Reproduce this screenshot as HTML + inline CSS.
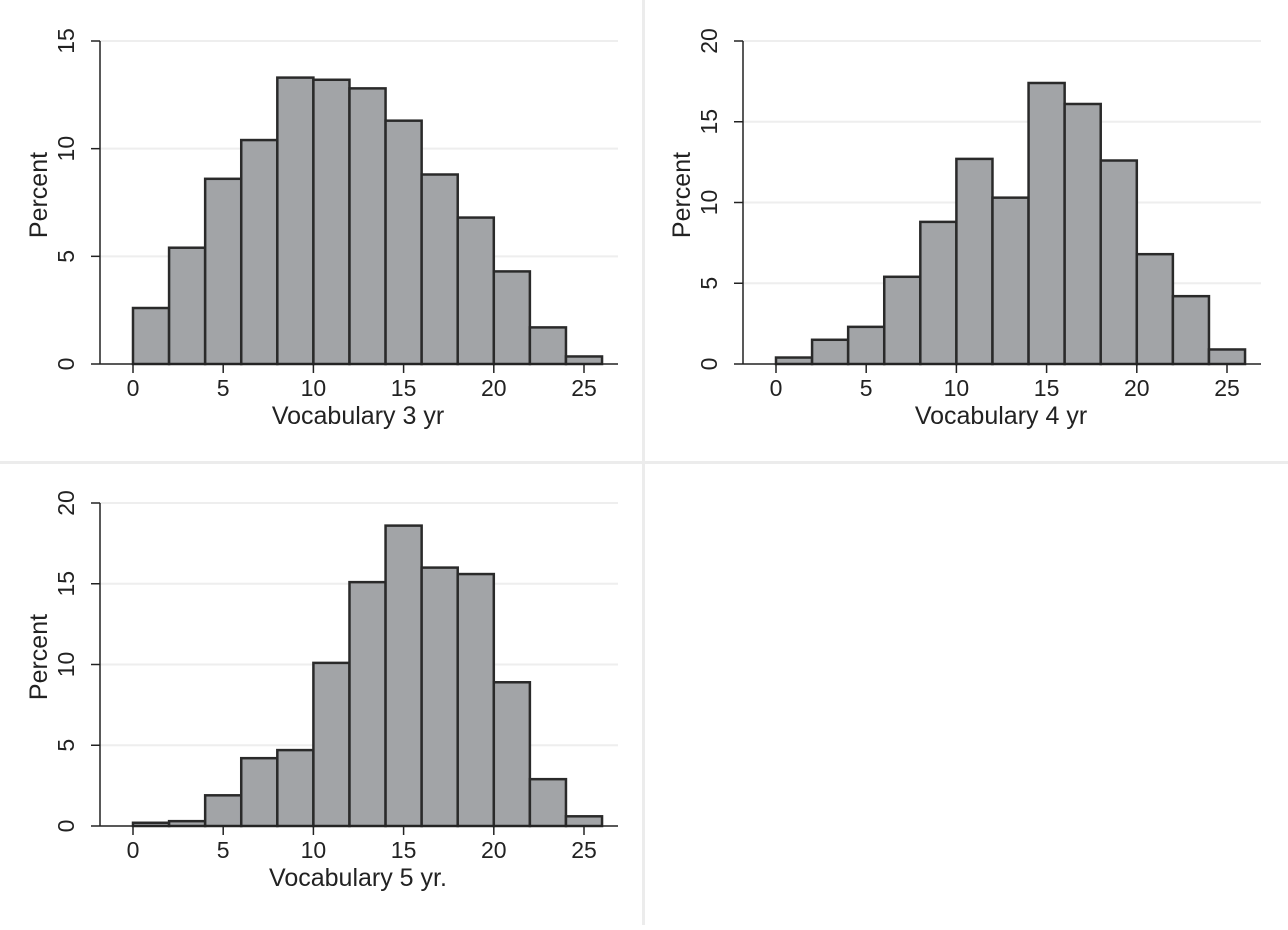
<!DOCTYPE html>
<html><head><meta charset="utf-8"><style>
body{margin:0;background:#fff;}
svg text{font-family:"Liberation Sans",Arial,sans-serif;fill:#222;}
</style></head><body>
<svg id="c" width="1288" height="925" xmlns="http://www.w3.org/2000/svg">
<rect x="0" y="0" width="1288" height="925" fill="#fff"/>
<line x1="643.5" y1="0" x2="643.5" y2="925" stroke="#ececec" stroke-width="3"/>
<line x1="0" y1="462.5" x2="1288" y2="462.5" stroke="#ececec" stroke-width="3"/>
<rect x="645" y="464" width="643" height="461" fill="#fff"/>
</svg>
<script>
const binStarts=[0,2,4,6,8,10,12,14,16,18,20,22,24];
const xTicks=[0,5,10,15,20,25];
const vals3=[2.6,5.4,8.6,10.4,13.3,13.2,12.8,11.3,8.8,6.8,4.3,1.7,0.35];
const vals4=[0.4,1.5,2.3,5.4,8.8,12.7,10.3,17.4,16.1,12.6,6.8,4.2,0.9];
const vals5=[0.2,0.3,1.9,4.2,4.7,10.1,15.1,18.6,16.0,15.6,8.9,2.9,0.6];
const yTicks3=[0,5,10,15];
const yTicks45=[0,5,10,15,20];
const titles=["Vocabulary 3 yr","Vocabulary 4 yr","Vocabulary 5 yr."];
const svg=document.getElementById('c');
const NS='http://www.w3.org/2000/svg';
function mk(t,a,p){const e=document.createElementNS(NS,t);for(const k in a)e.setAttribute(k,a[k]);(p||svg).appendChild(e);return e;}
function panel(ox,oy,vals,yTicks,ymax,title,id){
  const g=mk('g',{});
  
  
  const x0=ox+133,xs=18.04,y0=oy+364,ys=323/ymax;
  const X=v=>x0+v*xs, Y=v=>y0-v*ys;
  yTicks.forEach(t=>{
    if(t>0){const gl=mk('line',{x1:ox+100,x2:ox+618,y1:Y(t),y2:Y(t),stroke:'#eeeeee','stroke-width':2},g);
      }
  });
  vals.forEach((v,i)=>{
    const r=mk('rect',{x:X(binStarts[i]),y:Y(v),width:2*xs,height:y0-Y(v),fill:'#a2a4a7',stroke:'#2a2a2a','stroke-width':2.5},g);
    
    
  });
  const ya=mk('line',{x1:ox+100,x2:ox+100,y1:Y(ymax),y2:y0,stroke:'#222','stroke-width':1.5},g);
  
  const xa=mk('line',{x1:ox+100,x2:ox+618,y1:y0,y2:y0,stroke:'#222','stroke-width':1.5},g);
  
  yTicks.forEach(t=>{
    mk('line',{x1:ox+91,x2:ox+100,y1:Y(t),y2:Y(t),stroke:'#222','stroke-width':1.5},g);
    const tx=mk('text',{x:ox+74,y:Y(t),'font-size':23,'text-anchor':'middle',transform:`rotate(-90 ${ox+74} ${Y(t)})`},g);
    tx.textContent=t;
    
  });
  xTicks.forEach(t=>{
    mk('line',{x1:X(t),x2:X(t),y1:y0,y2:y0+9,stroke:'#222','stroke-width':1.5},g);
    const tx=mk('text',{x:X(t),y:y0+32,'font-size':23,'text-anchor':'middle'},g);
    tx.textContent=t;
    
  });
  const yt=mk('text',{x:ox+47,y:oy+195,'font-size':25,'text-anchor':'middle',transform:`rotate(-90 ${ox+47} ${oy+195})`},g);
  yt.textContent='Percent';
  
  const xt=mk('text',{x:ox+358,y:oy+424,'font-size':25,'text-anchor':'middle'},g);
  xt.textContent=title;
  
}
panel(0,0,vals3,yTicks3,15,titles[0],'3yr');
panel(643,0,vals4,yTicks45,20,titles[1],'4yr');
panel(0,462,vals5,yTicks45,20,titles[2],'5yr');
</script>
</body></html>
